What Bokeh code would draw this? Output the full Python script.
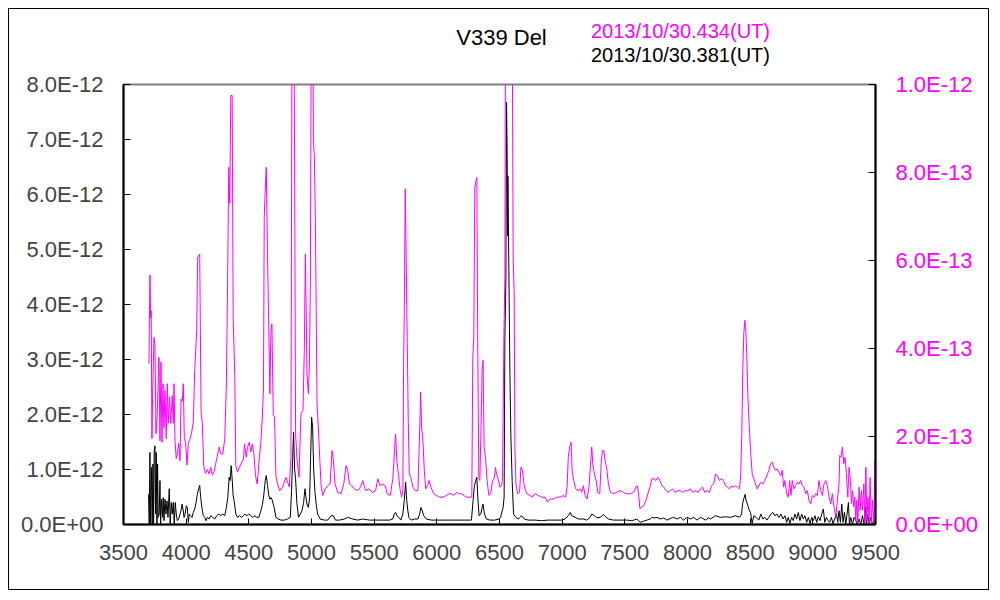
import numpy as np
from bokeh.plotting import figure
from bokeh.models import Range1d, LinearAxis, FixedTicker, CustomJSTickFormatter
from bokeh.embed import file_html
from bokeh.resources import INLINE

# ---- data ----
# magenta spectrum: 2013/10/30.434(UT), flux in units of 1e-13 (right axis)
mag_wave = [3703, 3705, 3711, 3716, 3721, 3727, 3732, 3743, 3751, 3759, 3769, 3783, 3791, 3799, 3807,
            3815, 3823, 3831, 3841, 3849, 3857, 3868, 3876, 3889, 3897, 3903, 3911, 3921, 3929, 3940,
            3951, 3959, 3969, 3977, 3985, 3996, 4007, 4017, 4031, 4044, 4057, 4068, 4084, 4092, 4108,
            4119, 4129, 4140, 4153, 4169, 4183, 4196, 4209, 4223, 4244, 4263, 4276, 4292, 4308, 4321,
            4332, 4340, 4348, 4356, 4367, 4375, 4388, 4396, 4409, 4425, 4441, 4457, 4465, 4479, 4489,
            4503, 4516, 4527, 4540, 4553, 4567, 4583, 4596, 4607, 4617, 4623, 4631, 4639, 4649, 4660,
            4668, 4676, 4684, 4695, 4705, 4716, 4729, 4745, 4769, 4796, 4823, 4836, 4844, 4857, 4865,
            4873, 4884, 4900, 4916, 4932, 4943, 4951, 4959, 4964, 4975, 4983, 4991, 4999, 5007, 5015,
            5023, 5031, 5044, 5055, 5068, 5076, 5089, 5111, 5129, 5148, 5164, 5175, 5188, 5209, 5236,
            5257, 5276, 5289, 5303, 5321, 5343, 5369, 5391, 5409, 5431, 5457, 5484, 5511, 5529, 5548,
            5569, 5588, 5604, 5628, 5649, 5663, 5671, 5681, 5695, 5708, 5719, 5729, 5735, 5740, 5748,
            5756, 5764, 5772, 5780, 5793, 5809, 5828, 5849, 5863, 5871, 5879, 5889, 5900, 5911, 5927,
            5937, 5953, 5975, 5996, 6023, 6049, 6076, 6097, 6116, 6135, 6156, 6177, 6196, 6215, 6236,
            6257, 6279, 6287, 6295, 6303, 6311, 6319, 6327, 6335, 6343, 6351, 6361, 6369, 6377, 6388,
            6401, 6415, 6431, 6444, 6457, 6468, 6476, 6489, 6503, 6516, 6524, 6535, 6543, 6548, 6569,
            6583, 6601, 6609, 6617, 6623, 6631, 6644, 6660, 6671, 6684, 6697, 6716, 6743, 6761, 6783,
            6809, 6836, 6863, 6884, 6903, 6929, 6956, 6983, 7009, 7028, 7039, 7049, 7060, 7071, 7079,
            7089, 7108, 7129, 7143, 7156, 7169, 7183, 7199, 7215, 7228, 7236, 7244, 7257, 7271, 7284,
            7300, 7311, 7321, 7332, 7343, 7356, 7369, 7385, 7409, 7436, 7463, 7489, 7516, 7543, 7569,
            7588, 7601, 7612, 7620, 7636, 7652, 7668, 7684, 7700, 7716, 7732, 7748, 7764, 7780, 7796,
            7812, 7828, 7844, 7863, 7881, 7903, 7924, 7943, 7961, 7983, 8004, 8023, 8041, 8063, 8084,
            8103, 8121, 8137, 8156, 8175, 8191, 8209, 8223, 8239, 8255, 8271, 8287, 8303, 8319, 8335,
            8351, 8367, 8383, 8399, 8415, 8425, 8433, 8441, 8449, 8457, 8465, 8473, 8481, 8492, 8503,
            8516, 8529, 8543, 8556, 8569, 8585, 8601, 8617, 8633, 8649, 8663, 8676, 8689, 8703, 8716,
            8729, 8743, 8756, 8767, 8777, 8791, 8804, 8815, 8825, 8836, 8849, 8863, 8876, 8889, 8903,
            8916, 8929, 8943, 8956, 8969, 8983, 8996, 9009, 9023, 9036, 9049, 9063, 9076, 9089, 9103,
            9116, 9129, 9143, 9156, 9169, 9183, 9196, 9209, 9215, 9225, 9236, 9247, 9257, 9268, 9279,
            9289, 9300, 9308, 9316, 9327, 9335, 9343, 9351, 9359, 9369, 9377, 9388, 9396, 9407, 9415,
            9423, 9431, 9441, 9449, 9457, 9468, 9476, 9487, 9495, 9500]
mag_flux_e13 = [3.65, 4.22, 5.67, 4.70, 4.86, 1.95, 2.90, 4.25, 4.05, 2.06, 2.50, 3.80, 1.90, 3.69, 1.87,
                3.20, 2.20, 3.05, 1.95, 3.20, 2.30, 2.90, 2.30, 2.93, 2.30, 3.20, 1.90, 1.50, 1.60, 1.85,
                1.45, 2.85, 2.80, 3.20, 1.98, 1.85, 1.35, 1.85, 1.95, 2.10, 2.33, 3.50, 4.40, 6.07, 6.15,
                2.55, 2.30, 1.34, 1.16, 1.25, 1.15, 1.30, 1.12, 1.20, 1.50, 1.76, 1.61, 1.60, 1.95, 3.20,
                5.90, 8.12, 7.30, 9.75, 9.75, 4.70, 3.35, 1.34, 1.19, 1.30, 1.40, 1.49, 1.83, 1.53, 1.75,
                1.87, 1.65, 1.83, 1.61, 1.11, 0.92, 1.50, 1.87, 2.40, 3.10, 7.00, 7.63, 8.12, 6.15, 4.33,
                2.97, 4.40, 4.56, 2.50, 2.44, 1.11, 0.92, 0.77, 0.85, 1.07, 0.85, 1.53, 11.0, 13.0, 8.47,
                2.06, 1.50, 1.07, 2.52, 2.59, 4.00, 6.15, 4.50, 3.42, 2.97, 3.60, 5.50, 12.0, 14.0, 8.73,
                8.35, 6.91, 2.74, 2.17, 1.38, 0.92, 0.66, 0.81, 0.88, 0.92, 1.68, 1.45, 0.92, 0.73, 0.70,
                0.92, 1.34, 1.23, 0.92, 0.88, 0.81, 0.77, 0.85, 1.00, 0.77, 0.81, 0.73, 0.77, 1.04, 0.88,
                0.92, 0.88, 0.70, 0.66, 1.04, 1.72, 2.06, 1.45, 1.11, 0.77, 0.62, 0.77, 3.73, 4.71, 7.63,
                5.92, 4.11, 2.36, 1.15, 1.07, 0.85, 0.77, 0.77, 2.14, 3.01, 2.17, 1.91, 1.23, 0.81, 0.88,
                1.00, 0.85, 0.70, 0.66, 0.62, 0.62, 0.66, 0.70, 0.70, 0.66, 0.73, 0.70, 0.70, 0.66, 0.62,
                0.62, 0.62, 3.80, 4.26, 7.67, 7.78, 7.89, 3.80, 1.07, 1.00, 1.98, 3.50, 3.73, 1.76, 1.53,
                1.00, 0.66, 0.70, 1.00, 1.04, 1.30, 1.15, 1.04, 0.85, 0.88, 1.00, 4.26, 5.62, 12.0, 16.0,
                16.0, 12.0, 6.08, 5.24, 1.76, 0.92, 0.70, 0.73, 1.30, 1.23, 0.88, 0.70, 0.66, 0.62, 0.70,
                0.66, 0.62, 0.62, 0.51, 0.58, 0.58, 0.62, 0.62, 0.66, 0.62, 0.85, 1.53, 1.76, 1.87, 1.26,
                1.04, 0.81, 0.77, 0.81, 0.73, 0.88, 0.66, 0.58, 0.88, 1.45, 1.76, 1.38, 1.15, 1.00, 0.73,
                0.70, 1.38, 1.68, 1.68, 1.45, 1.26, 0.92, 0.73, 0.70, 0.73, 0.77, 0.73, 0.70, 0.70, 0.73,
                0.85, 0.88, 0.62, 0.36, 0.40, 0.43, 0.55, 0.70, 0.85, 1.04, 1.04, 1.00, 1.07, 1.00, 0.88,
                0.85, 0.77, 0.73, 0.77, 0.81, 0.73, 0.77, 0.77, 0.73, 0.77, 0.77, 0.81, 0.73, 0.77, 0.73,
                0.81, 0.85, 0.73, 0.77, 0.73, 0.88, 0.92, 1.15, 1.11, 1.00, 1.04, 1.00, 0.88, 0.85, 0.81,
                0.88, 0.85, 0.88, 0.85, 0.81, 1.15, 2.06, 3.50, 4.33, 4.64, 4.41, 3.88, 2.97, 2.29, 1.68,
                1.15, 1.04, 0.92, 0.81, 0.88, 0.96, 0.92, 1.00, 1.11, 1.23, 1.38, 1.42, 1.30, 1.23, 1.26,
                1.19, 1.11, 1.23, 0.85, 1.00, 0.70, 0.62, 1.00, 0.66, 1.00, 0.81, 0.88, 0.96, 0.92, 1.00,
                0.88, 0.85, 0.70, 0.77, 0.55, 0.47, 0.66, 0.62, 0.70, 0.66, 1.00, 0.77, 0.66, 0.92, 1.00,
                0.88, 0.62, 0.47, 0.70, 0.40, 0.17, 0.55, 0.92, 1.57, 1.53, 1.76, 1.38, 1.53, 1.15, 0.62,
                1.30, 1.00, 0.47, 0.77, 0.40, 0.62, 0.09, 0.55, 0.02, 0.85, 0.32, 0.77, 0.32, 0.92, 0.02,
                1.30, 0.09, 0.62, 0.02, 1.07, 0.02, 0.55, 0.02, 1.45, 0.02]

# black spectrum: 2013/10/30.381(UT), flux in units of 1e-12 (left axis)
blk_wave = [3700, 3705, 3711, 3716, 3724, 3729, 3735, 3740, 3745, 3751, 3756, 3761, 3767, 3772, 3777,
            3785, 3791, 3796, 3804, 3812, 3817, 3823, 3831, 3839, 3847, 3855, 3865, 3873, 3881, 3889,
            3897, 3905, 3913, 3921, 3929, 3940, 3951, 3959, 3967, 3975, 3983, 3991, 4001, 4009, 4017,
            4025, 4036, 4047, 4057, 4068, 4079, 4089, 4100, 4108, 4116, 4127, 4137, 4148, 4159, 4169,
            4183, 4196, 4212, 4228, 4244, 4260, 4276, 4292, 4308, 4321, 4332, 4343, 4351, 4359, 4367,
            4375, 4385, 4396, 4409, 4425, 4441, 4457, 4468, 4484, 4500, 4516, 4532, 4548, 4564, 4580,
            4596, 4609, 4620, 4631, 4639, 4649, 4660, 4668, 4676, 4684, 4695, 4705, 4716, 4735, 4756,
            4783, 4809, 4831, 4841, 4849, 4857, 4865, 4873, 4884, 4897, 4911, 4924, 4937, 4948, 4956,
            4964, 4975, 4985, 4993, 5001, 5009, 5017, 5028, 5039, 5049, 5063, 5068, 5103, 5129, 5156,
            5175, 5191, 5223, 5263, 5289, 5329, 5369, 5409, 5463, 5516, 5569, 5623, 5649, 5660, 5671,
            5681, 5697, 5713, 5729, 5740, 5751, 5759, 5767, 5777, 5796, 5823, 5849, 5863, 5873, 5884,
            5895, 5916, 5956, 6009, 6063, 6116, 6169, 6223, 6276, 6289, 6300, 6311, 6319, 6327, 6337,
            6351, 6361, 6369, 6380, 6396, 6423, 6463, 6497, 6508, 6529, 6537, 6543, 6551, 6556, 6561,
            6564, 6567, 6575, 6583, 6591, 6601, 6612, 6631, 6650, 6663, 6676, 6697, 6729, 6783, 6836,
            6889, 6943, 6996, 7023, 7049, 7065, 7076, 7103, 7129, 7169, 7196, 7223, 7236, 7257, 7276,
            7303, 7329, 7348, 7369, 7409, 7463, 7516, 7556, 7596, 7623, 7649, 7676, 7703, 7716, 7737,
            7756, 7783, 7809, 7836, 7863, 7889, 7916, 7943, 7969, 7996, 8023, 8049, 8076, 8103, 8129,
            8143, 8169, 8183, 8223, 8263, 8303, 8343, 8383, 8415, 8431, 8441, 8452, 8460, 8468, 8479,
            8489, 8503, 8516, 8529, 8548, 8569, 8585, 8601, 8617, 8633, 8649, 8665, 8681, 8697, 8713,
            8729, 8745, 8761, 8777, 8791, 8804, 8817, 8831, 8844, 8857, 8871, 8884, 8897, 8911, 8924,
            8937, 8951, 8964, 8977, 8991, 9004, 9017, 9031, 9044, 9057, 9071, 9084, 9095, 9108, 9121,
            9135, 9148, 9161, 9175, 9188, 9199, 9209, 9220, 9231, 9241, 9252, 9263, 9273, 9284, 9292,
            9303, 9316, 9329, 9343, 9356, 9369, 9383, 9396, 9409, 9420, 9428, 9439, 9449, 9463, 9476,
            9489, 9500]
blk_flux_e12 = [0.55, 0.0, 1.31, 0.0, 1.04, 0.0, 1.10, 0.0, 1.34, 1.43, 0.19, 1.31, 0.0, 1.10, 0.13,
                0.19, 0.80, 0.0, 0.46, 0.13, 0.49, 0.07, 0.46, 0.19, 0.43, 0.13, 0.65, 0.0, 0.40, 0.19,
                0.40, 0.0, 0.40, 0.19, 0.07, 0.10, 0.19, 0.25, 0.37, 0.28, 0.13, 0.19, 0.34, 0.31, 0.04,
                0.19, 0.16, 0.13, 0.22, 0.28, 0.40, 0.55, 0.65, 0.71, 0.49, 0.28, 0.16, 0.13, 0.07, 0.13,
                0.10, 0.16, 0.13, 0.10, 0.16, 0.19, 0.16, 0.19, 0.16, 0.31, 0.49, 0.86, 0.80, 1.07, 0.83,
                0.52, 0.40, 0.19, 0.13, 0.16, 0.13, 0.16, 0.19, 0.16, 0.19, 0.16, 0.13, 0.16, 0.13, 0.13,
                0.25, 0.37, 0.55, 0.80, 0.89, 0.71, 0.52, 0.46, 0.49, 0.46, 0.37, 0.28, 0.13, 0.10, 0.08,
                0.08, 0.10, 0.13, 0.62, 1.16, 1.68, 1.01, 0.83, 0.37, 0.13, 0.19, 0.25, 0.40, 0.65, 0.49,
                0.37, 0.31, 0.49, 1.22, 1.95, 1.77, 1.01, 0.58, 0.34, 0.19, 0.13, 0.10, 0.08, 0.08, 0.16,
                0.16, 0.08, 0.08, 0.10, 0.13, 0.10, 0.08, 0.10, 0.08, 0.08, 0.08, 0.08, 0.10, 0.19, 0.22,
                0.16, 0.13, 0.08, 0.19, 0.43, 0.77, 0.46, 0.28, 0.13, 0.08, 0.10, 0.10, 0.19, 0.31, 0.25,
                0.16, 0.10, 0.08, 0.08, 0.08, 0.08, 0.08, 0.08, 0.08, 0.43, 0.71, 0.80, 0.86, 0.49, 0.16,
                0.19, 0.31, 0.37, 0.19, 0.10, 0.08, 0.08, 0.10, 0.13, 0.31, 0.50, 3.40, 4.50, 7.68, 6.74,
                5.25, 6.34, 4.60, 2.74, 1.58, 0.80, 0.19, 0.13, 0.10, 0.13, 0.16, 0.10, 0.08, 0.08, 0.07,
                0.08, 0.08, 0.08, 0.10, 0.16, 0.22, 0.16, 0.13, 0.10, 0.10, 0.08, 0.13, 0.19, 0.16, 0.12,
                0.13, 0.18, 0.14, 0.10, 0.08, 0.08, 0.08, 0.07, 0.10, 0.04, 0.06, 0.08, 0.10, 0.13, 0.12,
                0.13, 0.10, 0.12, 0.08, 0.11, 0.13, 0.10, 0.13, 0.08, 0.13, 0.10, 0.13, 0.08, 0.13, 0.10,
                0.08, 0.12, 0.10, 0.16, 0.13, 0.14, 0.13, 0.16, 0.13, 0.19, 0.40, 0.49, 0.55, 0.43, 0.37,
                0.28, 0.22, 0.02, 0.16, 0.13, 0.08, 0.19, 0.10, 0.13, 0.08, 0.13, 0.19, 0.22, 0.16, 0.19,
                0.13, 0.19, 0.10, 0.16, 0.04, 0.13, 0.02, 0.13, 0.07, 0.19, 0.10, 0.22, 0.07, 0.19, 0.10,
                0.16, 0.04, 0.13, 0.02, 0.13, 0.07, 0.16, 0.04, 0.14, 0.07, 0.19, 0.28, 0.04, 0.13, 0.07,
                0.04, 0.13, 0.02, 0.10, 0.19, 0.04, 0.25, 0.04, 0.37, 0.04, 0.22, 0.0, 0.19, 0.40, 0.0,
                0.13, 0.0, 0.13, 0.07, 0.0, 0.10, 0.0, 0.16, 0.0, 0.31, 0.0, 0.19, 0.0, 0.13, 0.0,
                0.07, 0.0]

x_ticks = [3500, 4000, 4500, 5000, 5500, 6000, 6500, 7000, 7500, 8000, 8500, 9000, 9500]
left_ticks = [0.0, 1e-12, 2e-12, 3e-12, 4e-12, 5e-12, 6e-12, 7e-12, 8e-12]
right_ticks = [0.0, 2e-13, 4e-13, 6e-13, 8e-13, 1e-12]

title_text = "V339 Del"
legend_magenta = "2013/10/30.434(UT)"
legend_black = "2013/10/30.381(UT)"

mag_flux = np.array(mag_flux_e13) * 1e-13
blk_flux = np.array(blk_flux_e12) * 1e-12

MAGENTA = "#FF00FF"
FONT = "Liberation Sans"

p = figure(width=981, height=582, output_backend="svg", toolbar_location=None,
           x_range=Range1d(3500, 9500), y_range=Range1d(0, 8e-12),
           min_border_left=114, min_border_right=115, min_border_top=75, min_border_bottom=67,
           background_fill_color="white", border_fill_color="white",
           styles={"border": "1px solid black", "margin-left": "8px", "margin-top": "8px"})
p.extra_y_ranges = {"right": Range1d(0, 1e-12)}

p.xgrid.visible = False
p.ygrid.visible = False
p.outline_line_color = "#808080"
p.outline_line_width = 2

fmt_code = """
var s = tick.toExponential(1).toUpperCase();
return s.replace(/E([+-])(\\d)$/, function(m, a, b) { return "E" + a + "0" + b; });
"""

p.line(blk_wave, blk_flux, line_color="black", line_width=1)
p.line(mag_wave, mag_flux, line_color=MAGENTA, line_width=1, y_range_name="right")

right_axis = LinearAxis(y_range_name="right")
p.add_layout(right_axis, "right")

for ax in [p.xaxis[0], p.yaxis[0], right_axis]:
    ax.axis_line_color = "black"
    ax.axis_line_width = 2
    ax.major_tick_line_color = "black"
    ax.major_tick_line_width = 1
    ax.major_tick_in = 7
    ax.major_tick_out = 0
    ax.minor_tick_line_color = None
    ax.major_label_text_font = FONT
    ax.major_label_text_font_size = "22px"
    ax.major_label_standoff = 20

p.xaxis[0].ticker = FixedTicker(ticks=x_ticks)
p.xaxis[0].major_tick_in = 6
p.yaxis[0].ticker = FixedTicker(ticks=left_ticks)
p.yaxis[0].formatter = CustomJSTickFormatter(code=fmt_code)
right_axis.ticker = FixedTicker(ticks=right_ticks)
right_axis.formatter = CustomJSTickFormatter(code=fmt_code)
right_axis.major_label_text_color = MAGENTA


# header texts: unlined axes above the frame, each carrying one text
def text_row(text, center, color, size, standoff):
    ax = LinearAxis(ticker=FixedTicker(ticks=[center]),
                    major_label_overrides={center: text})
    ax.axis_line_color = None
    ax.major_tick_line_color = None
    ax.minor_tick_line_color = None
    ax.major_tick_in = 0
    ax.major_tick_out = 0
    ax.major_label_text_font = FONT
    ax.major_label_text_font_size = size
    ax.major_label_text_color = color
    ax.major_label_standoff = standoff
    p.add_layout(ax, "above")


text_row(legend_black, 7944, "black", "20px", 19)
text_row(title_text, 6516, "black", "22px", -9)
text_row(legend_magenta, 7944, MAGENTA, "20px", -20)

open("out.html", "w").write(file_html(p, INLINE))
